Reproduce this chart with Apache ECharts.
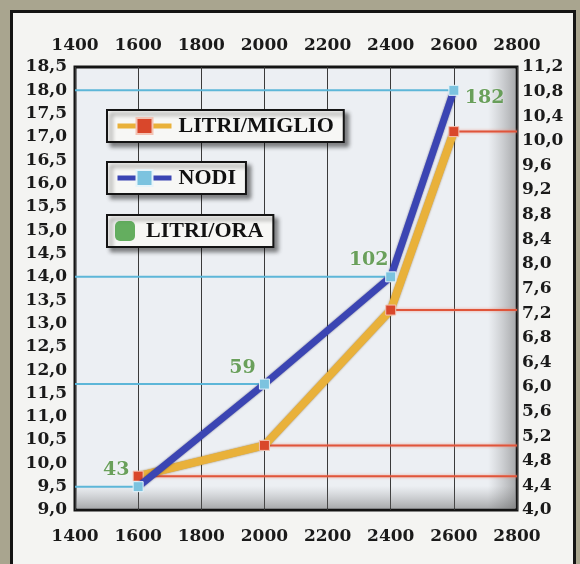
<!DOCTYPE html>
<html>
<head>
<meta charset="utf-8">
<script src="https://cdn.jsdelivr.net/npm/echarts@6/dist/echarts.min.js"></script>
<style>
  html, body { margin: 0; padding: 0; background: #a9a58f; }
  #frame { position: absolute; left: 10px; top: 10px; width: 560px; height: 560px; border: 3px solid #141414; background: #f4f4f2; }
  #chart { position: absolute; left: 0; top: 0; width: 580px; height: 564px; }
</style>
</head>
<body>
<div id="frame"></div>
<div id="chart"></div>
<script>
// Data
const rpm = [1600, 2000, 2400, 2600];               // giri/min
const nodi = [9.5, 11.7, 14.0, 18.0];               // left axis
const litriMiglio = [4.55, 5.05, 7.25, 10.15];      // right axis
const litriOra = [43, 59, 102, 182];                // labels
const xTicks = { min: 1400, max: 2800, interval: 200 };
const yLeft = { min: 9.0, max: 18.5, interval: 0.5 };
const yRight = { min: 4.0, max: 11.2, interval: 0.4 };

const chart = echarts.init(document.getElementById('chart'), null, { renderer: 'canvas' });

const fmtComma = v => Number(v).toFixed(1).replace('.', ',');
const fmtPlain = v => String(Math.round(v));
const labelFont = { fontFamily: 'DejaVu Serif', fontWeight: 'bold', fontSize: 17, color: '#1a1a1a' };
const legendBase = {
  orient: 'horizontal', left: 107, padding: [5, 10, 5, 8], itemGap: 0,
  backgroundColor: '#f7f7f5', borderColor: '#141414', borderWidth: 2,
  shadowBlur: 4, shadowOffsetX: 4, shadowOffsetY: 4, shadowColor: 'rgba(0,0,0,0.45)',
  lineStyle: { width: 5 },
  textStyle: { fontFamily: 'Liberation Serif', fontWeight: 'bold', fontSize: 22, color: '#111', padding: [0, 0, 0, 2] }
};

const xMin = xTicks.min, xMax = xTicks.max;

const blueRefSeries = rpm.map((x, i) => ({
  type: 'line', silent: true, xAxisIndex: 0, yAxisIndex: 0, symbol: 'none', z: 3,
  lineStyle: { color: '#5db6d8', width: 2 },
  data: [[xMin, nodi[i]], [x, nodi[i]]]
}));
const redRefSeries = rpm.map((x, i) => ({
  type: 'line', silent: true, xAxisIndex: 0, yAxisIndex: 1, symbol: 'none', z: 3,
  lineStyle: { color: '#e0553a', width: 2, shadowColor: 'rgba(240,140,120,0.8)', shadowBlur: 3 },
  data: [[x, litriMiglio[i]], [xMax, litriMiglio[i]]]
}));

chart.setOption({
  animation: false,
  textStyle: { fontFamily: 'DejaVu Serif' },
  grid: {
    left: 75, right: 63, top: 67, bottom: 54, show: true,
    backgroundColor: '#eceff3', borderColor: '#141414', borderWidth: 3
  },
  legend: [
    Object.assign({}, legendBase, { top: 110, data: ['LITRI/MIGLIO'], itemWidth: 54, itemHeight: 20 }),
    Object.assign({}, legendBase, { top: 162, data: ['NODI'], itemWidth: 54, itemHeight: 20 }),
    Object.assign({}, legendBase, { top: 215, data: ['LITRI/ORA'], itemWidth: 20, itemHeight: 20, icon: 'roundRect',
      textStyle: Object.assign({}, legendBase.textStyle, { padding: [0, 0, 0, 6] }) })
  ],
  xAxis: [
    {
      type: 'value', position: 'bottom', min: xTicks.min, max: xTicks.max, interval: xTicks.interval,
      axisLine: { show: false }, axisTick: { show: false },
      axisLabel: Object.assign({ margin: 18, formatter: fmtPlain }, labelFont),
      splitLine: { show: true, lineStyle: { color: '#3a3a3a', width: 1 } }
    },
    {
      type: 'value', position: 'top', min: xTicks.min, max: xTicks.max, interval: xTicks.interval,
      axisLine: { show: false }, axisTick: { show: false },
      axisLabel: Object.assign({ margin: 13, formatter: fmtPlain }, labelFont),
      splitLine: { show: false }
    }
  ],
  yAxis: [
    {
      type: 'value', position: 'left', min: yLeft.min, max: yLeft.max, interval: yLeft.interval,
      axisLine: { show: false }, axisTick: { show: false }, splitLine: { show: false },
      axisLabel: Object.assign({ margin: 8, formatter: fmtComma, padding: [5, 0, 0, 0] }, labelFont)
    },
    {
      type: 'value', position: 'right', min: yRight.min, max: yRight.max, interval: yRight.interval,
      axisLine: { show: false }, axisTick: { show: false }, splitLine: { show: false },
      axisLabel: Object.assign({ margin: 5, formatter: fmtComma, padding: [5, 0, 0, 0] }, labelFont)
    }
  ],
  graphic: [
    {
      type: 'rect', z: 1, silent: true,
      shape: { x: 488, y: 69, width: 27, height: 440 },
      style: { fill: new echarts.graphic.LinearGradient(0, 0, 1, 0, [
        { offset: 0, color: 'rgba(120,120,120,0)' }, { offset: 1, color: 'rgba(90,90,90,0.45)' }]) }
    },
    {
      type: 'rect', z: 1, silent: true,
      shape: { x: 77, y: 486, width: 438, height: 22 },
      style: { fill: new echarts.graphic.LinearGradient(0, 0, 0, 1, [
        { offset: 0, color: 'rgba(120,120,120,0)' }, { offset: 1, color: 'rgba(90,90,90,0.45)' }]) }
    }
  ],
  series: [
    ...blueRefSeries,
    ...redRefSeries,
    {
      name: 'LITRI/MIGLIO', type: 'line', xAxisIndex: 0, yAxisIndex: 1, z: 5,
      data: rpm.map((x, i) => [x, litriMiglio[i]]),
      symbol: 'rect', symbolSize: 10, showSymbol: true,
      lineStyle: { color: '#e9b13a', width: 8, shadowColor: 'rgba(120,80,10,0.7)', shadowBlur: 2 },
      itemStyle: { color: '#d9472b', borderColor: '#f3c3b4', borderWidth: 1 }
    },
    {
      name: 'NODI', type: 'line', xAxisIndex: 0, yAxisIndex: 0, z: 6,
      data: rpm.map((x, i) => [x, nodi[i]]),
      symbol: 'rect', symbolSize: 10, showSymbol: true,
      lineStyle: { color: '#3b45b3', width: 7, shadowColor: 'rgba(20,20,80,0.6)', shadowBlur: 2 },
      itemStyle: { color: '#7cc3df', borderColor: '#e6f4fa', borderWidth: 1 }
    },
    {
      name: 'LITRI/ORA', type: 'scatter', xAxisIndex: 0, yAxisIndex: 0, z: 8,
      symbol: 'roundRect', symbolSize: 0,
      itemStyle: { color: '#3f9b3a' },
      data: rpm.map((x, i) => ({
        value: [x, nodi[i], litriOra[i]],
        label: i === rpm.length - 1
          ? { position: 'right', offset: [6, 8] }
          : { position: 'top', offset: [-22, -2] }
      })),
      label: {
        show: true, formatter: p => String(p.value[2]),
        fontFamily: 'DejaVu Serif', fontWeight: 'bold', fontSize: 19, color: '#468a33',
        textShadowColor: 'rgba(255,255,255,0.9)', textShadowBlur: 2
      }
    }
  ]
});
</script>
</body>
</html>
